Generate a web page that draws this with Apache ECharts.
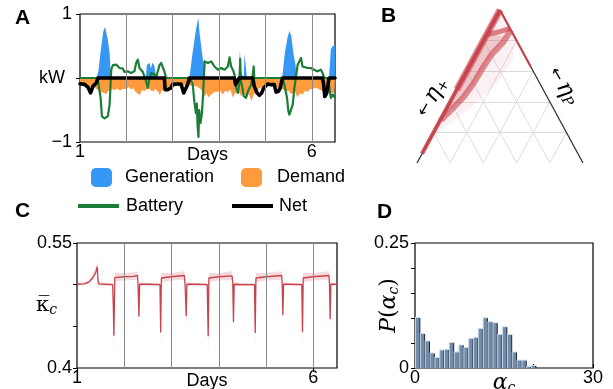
<!DOCTYPE html>
<html>
<head>
<meta charset="utf-8">
<style>
  html, body { margin: 0; padding: 0; background: #fff; }
  #chart { width: 613px; height: 389px; }
</style>
<script src="https://cdn.jsdelivr.net/npm/echarts@6/dist/echarts.min.js"></script>
</head>
<body>
<div id="chart"></div>
<script>
// ---- A: household power traces, [day, kW] ----
const generationKW = [
  [1.0, 0], [1.36, 0], [1.40, 0.12], [1.45, 0.45], [1.50, 0.72], [1.54, 0.80], [1.57, 0.78], [1.60, 0.60],
  [1.64, 0.38], [1.66, 0.10], [1.67, 0],
  [2.42, 0], [2.44, 0.20], [2.50, 0.24], [2.53, 0.15], [2.56, 0.24], [2.60, 0.20], [2.63, 0.18], [2.65, 0],
  [3.36, 0], [3.42, 0.35], [3.50, 0.75], [3.55, 0.94], [3.58, 0.70], [3.63, 0.40], [3.68, 0.15], [3.70, 0],
  [4.42, 0], [4.45, 0.44], [4.47, 0.10], [4.53, 0], [4.55, 0.38], [4.58, 0.36], [4.60, 0],
  [5.36, 0], [5.42, 0.40], [5.48, 0.65], [5.52, 0.74], [5.56, 0.65], [5.60, 0.40], [5.65, 0.20], [5.67, 0],
  [6.37, 0], [6.41, 0.45], [6.45, 0.50], [6.50, 0.50]
];
const demandKW = [
  [1.00, -0.11], [1.04, -0.13], [1.07, -0.12], [1.11, -0.15], [1.15, -0.13], [1.21, -0.15], [1.25, -0.17],
  [1.30, -0.14], [1.36, -0.17], [1.40, -0.20], [1.43, -0.21], [1.47, -0.18], [1.50, -0.23], [1.53, -0.22],
  [1.57, -0.25], [1.61, -0.20], [1.65, -0.23], [1.70, -0.17], [1.75, -0.19], [1.80, -0.16], [1.86, -0.20],
  [1.92, -0.17], [2.00, -0.17], [2.05, -0.14], [2.10, -0.18], [2.15, -0.16], [2.20, -0.22], [2.24, -0.20],
  [2.29, -0.27], [2.33, -0.19], [2.36, -0.17], [2.41, -0.20], [2.47, -0.15], [2.52, -0.19], [2.58, -0.21],
  [2.62, -0.17], [2.65, -0.18], [2.69, -0.22], [2.72, -0.27], [2.76, -0.20], [2.79, -0.22], [2.83, -0.16],
  [2.86, -0.17], [2.92, -0.14], [3.00, -0.15], [3.07, -0.12], [3.15, -0.13], [3.22, -0.11], [3.29, -0.12],
  [3.36, -0.11], [3.44, -0.13], [3.50, -0.12], [3.58, -0.16], [3.63, -0.20], [3.69, -0.29], [3.73, -0.24],
  [3.77, -0.30], [3.80, -0.31], [3.84, -0.25], [3.87, -0.26], [3.92, -0.21], [3.97, -0.22], [4.02, -0.19],
  [4.08, -0.26], [4.13, -0.20], [4.19, -0.22], [4.24, -0.18], [4.30, -0.31], [4.34, -0.24], [4.37, -0.26],
  [4.42, -0.21], [4.48, -0.29], [4.53, -0.22], [4.59, -0.31], [4.64, -0.25], [4.70, -0.36], [4.74, -0.27],
  [4.77, -0.26], [4.82, -0.20], [4.87, -0.16], [4.93, -0.14], [5.01, -0.13], [5.08, -0.12], [5.16, -0.12],
  [5.23, -0.14], [5.30, -0.16], [5.37, -0.17], [5.44, -0.21], [5.50, -0.20], [5.55, -0.25], [5.59, -0.26],
  [5.64, -0.22], [5.69, -0.30], [5.74, -0.24], [5.80, -0.26], [5.85, -0.20], [5.91, -0.22], [5.96, -0.17],
  [6.02, -0.17], [6.08, -0.15], [6.16, -0.18], [6.22, -0.20], [6.30, -0.23], [6.36, -0.19], [6.42, -0.24],
  [6.48, -0.23], [6.50, -0.22]
];
const batteryKW = [
  [1.0, 0], [1.38, 0], [1.444, -0.31], [1.473, -0.60], [1.53, -0.63], [1.60, -0.60], [1.638, -0.42],
  [1.652, -0.21], [1.674, 0.13], [1.71, 0.20], [1.78, 0.21], [1.853, 0.156], [1.925, 0.146], [1.96, 0.094],
  [2.03, 0.104], [2.10, 0.078], [2.175, 0.104], [2.21, 0.234], [2.247, 0.286], [2.283, 0.156], [2.355, 0.094],
  [2.427, -0.052], [2.462, -0.156], [2.498, 0], [2.534, 0.078], [2.60, 0.06], [2.64, 0], [2.713, 0.198],
  [2.75, 0.234], [2.785, 0.21], [2.82, 0.104], [2.857, 0], [3.36, 0], [3.43, -0.09], [3.466, -0.365],
  [3.50, -0.55], [3.52, -0.40], [3.537, -0.75], [3.555, -0.92], [3.57, -0.50], [3.60, -0.70], [3.63, -0.55],
  [3.655, -0.25], [3.688, 0.26], [3.76, 0.234], [3.83, 0.26], [3.90, 0.18], [3.975, 0.13], [4.05, 0.156],
  [4.118, 0.13], [4.19, 0.18], [4.225, 0.323], [4.26, 0.18], [4.297, 0.13], [4.333, 0.052], [4.369, -0.156],
  [4.405, -0.234], [4.44, -0.078], [4.455, 0.30], [4.47, -0.05], [4.49, -0.10], [4.53, -0.28], [4.58, -0.31],
  [4.62, -0.21], [4.69, -0.104], [4.725, 0.052], [4.747, 0.18], [4.76, 0], [5.37, 0], [5.408, -0.104],
  [5.465, -0.31], [5.494, -0.52], [5.516, -0.573], [5.552, -0.547], [5.588, -0.417], [5.624, -0.156],
  [5.695, 0.208], [5.767, 0.313], [5.80, 0.18], [5.84, 0.208], [5.91, 0.156], [5.98, 0.156], [6.05, 0.13],
  [6.12, 0.104], [6.197, 0.13], [6.23, 0.078], [6.27, 0], [6.34, 0], [6.376, -0.14], [6.41, -0.31],
  [6.45, -0.26], [6.50, -0.31]
];
const netKW = [
  [1.0, -0.09], [1.03, -0.08], [1.10, -0.10], [1.172, -0.146], [1.229, -0.234], [1.28, -0.13], [1.315, -0.115],
  [1.35, -0.078], [1.387, 0], [2.82, 0], [2.835, -0.182], [2.89, -0.182], [2.96, -0.156], [3.0, -0.10],
  [3.03, -0.078], [3.107, -0.094], [3.18, -0.094], [3.236, -0.234], [3.286, -0.156], [3.322, -0.104],
  [3.358, 0], [4.33, 0], [4.357, -0.104], [4.40, -0.08], [4.43, 0], [4.725, 0], [4.76, -0.13], [4.82, -0.234],
  [4.87, -0.27], [4.92, -0.234], [4.96, -0.156], [5.05, -0.094], [5.12, -0.104], [5.19, -0.104], [5.23, -0.22],
  [5.28, -0.208], [5.32, -0.156], [5.35, -0.05], [5.37, 0], [6.23, 0], [6.255, -0.104], [6.28, -0.29],
  [6.32, -0.24], [6.35, -0.104], [6.37, 0], [6.50, 0]
];
const dayLines = [2, 3, 4, 5, 6];

// ---- B: simplex lattice and trajectories, [u, height] in lattice units ----
const triRows = 5;
const triDivs = [1, 2, 3, 4];
const bEdgeTrack = [[0, 5], [-2.35, 0.3]];
const bEdgeTop = [[0, 5], [-1.3, 2.4]];
const bRightTrack = [[0, 5], [0.93, 3.14]];
const bCrossTrack = [[0.3, 4.4], [-0.05, 4.28], [-0.38, 4.2]];
const bInnerTrack = [[0.33, 4.35], [0.1, 3.95], [-0.25, 3.55], [-0.5, 3.14], [-0.8, 2.6], [-1.1, 2.15], [-1.5, 1.7], [-1.78, 1.4]];
const bShade = [[-0.38, 4.2], [0.2, 4.15], [-0.25, 3.55], [-0.5, 3.14], [-0.8, 2.6], [-1.1, 2.15], [-1.78, 1.4], [-1.3, 2.4], [-0.38, 4.2]];
const bFan = [[0, 5], [0.45, 4.1], [0.4, 3.4], [-0.1, 2.6], [-0.9, 1.8], [-2.0, 0.9], [-2.4, 0.2]];

// ---- C: mean clustering, band ----
const kappaDays = [1.00, 1.15, 1.25, 1.33, 1.40, 1.43, 1.445, 1.46, 1.60, 1.755, 1.77, 1.78, 1.79, 1.80, 2.00, 2.20, 2.28, 2.29, 2.31, 2.325,
  2.50, 2.755, 2.77, 2.785, 3.00, 3.27, 3.285, 3.31, 3.325, 3.50, 3.755, 3.775, 3.79, 4.00, 4.28, 4.295, 4.31, 4.325,
  4.50, 4.755, 4.77, 4.785, 5.00, 5.33, 5.34, 5.355, 5.37, 5.50, 5.755, 5.77, 5.785, 6.00, 6.33, 6.34, 6.355, 6.37, 6.50];
const kappaMean = [0.5005, 0.5010, 0.5030, 0.5080, 0.5150, 0.5215, 0.5040, 0.5010, 0.5005, 0.5000, 0.4700, 0.4386, 0.4750, 0.5085, 0.5095, 0.5100, 0.5110, 0.5020, 0.4617, 0.5005,
  0.5005, 0.5000, 0.4426, 0.5080, 0.5095, 0.5110, 0.5020, 0.4620, 0.5005, 0.5005, 0.5000, 0.4380, 0.5080, 0.5095, 0.5105, 0.5020, 0.4550, 0.5005,
  0.5000, 0.5000, 0.4420, 0.5080, 0.5095, 0.5110, 0.5020, 0.4637, 0.5005, 0.5005, 0.5000, 0.4430, 0.5080, 0.5095, 0.5110, 0.5020, 0.4584, 0.5005, 0.5005];
const kappaLo = [0.4990, 0.4995, 0.5010, 0.5050, 0.5110, 0.5170, 0.4990, 0.4990, 0.4990, 0.4985, 0.4550, 0.4180, 0.4600, 0.5040, 0.5050, 0.5055, 0.5060, 0.4990, 0.4480, 0.4985,
  0.4990, 0.4985, 0.4230, 0.5030, 0.5050, 0.5060, 0.4990, 0.4480, 0.4985, 0.4990, 0.4985, 0.4180, 0.5030, 0.5050, 0.5055, 0.4990, 0.4400, 0.4985,
  0.4985, 0.4985, 0.4220, 0.5030, 0.5050, 0.5060, 0.4990, 0.4500, 0.4985, 0.4990, 0.4985, 0.4230, 0.5030, 0.5050, 0.5060, 0.4990, 0.4440, 0.4985, 0.4990];
const kappaHi = [0.5020, 0.5030, 0.5055, 0.5120, 0.5210, 0.5280, 0.5110, 0.5040, 0.5020, 0.5020, 0.4850, 0.4600, 0.4950, 0.5140, 0.5140, 0.5150, 0.5160, 0.5060, 0.4800, 0.5030,
  0.5020, 0.5020, 0.4600, 0.5140, 0.5140, 0.5160, 0.5060, 0.4800, 0.5030, 0.5020, 0.5020, 0.4580, 0.5140, 0.5140, 0.5160, 0.5060, 0.4720, 0.5030,
  0.5020, 0.5020, 0.4600, 0.5140, 0.5140, 0.5160, 0.5060, 0.4800, 0.5030, 0.5020, 0.5020, 0.4610, 0.5140, 0.5140, 0.5160, 0.5060, 0.4760, 0.5030, 0.5020];

// ---- D: histogram of alpha_c ----
const alphaBinWidth = 0.815;
const alphaProb = [0.100, 0.068, 0.053, 0.029, 0.020, 0.035, 0.036, 0.050, 0.031, 0.045, 0.040, 0.058, 0.060,
  0.078, 0.0995, 0.0916, 0.0896, 0.066, 0.0816, 0.066, 0.031, 0.0146, 0.0146, 0.002, 0.004];

const FONT = 'Liberation Sans, Arial, Helvetica, sans-serif';
const black = '#000';
const baseLabel = { fontSize: 18, color: black, fontFamily: FONT };

const chart = echarts.init(document.getElementById('chart'));

const dayAxis = gridIndex => ({
  gridIndex, type: 'value', min: 1, max: 6.5, interval: 1,
  axisLine: { show: false },
  splitLine: { show: false },
  axisTick: { show: true, customValues: [1, 6], length: 4, lineStyle: { color: black } },
  axisLabel: { ...baseLabel, customValues: [1, 6], margin: 1, formatter: v => (v === 1 || v === 6) ? String(v) : '' },
  name: 'Days', nameLocation: 'middle', nameGap: 4, nameMoveOverlap: false,
  nameTextStyle: { ...baseLabel }
});

const dayMarkLine = {
  silent: true, symbol: 'none', label: { show: false },
  lineStyle: { color: '#8a8a8a', width: 1, type: 'solid' },
  data: dayLines.map(d => ({ xAxis: d }))
};

const frame = { show: true, borderColor: black, borderWidth: 1.2, outerBoundsMode: 'none' };

const triGrid = [];
triDivs.forEach(k => {
  triGrid.push({ coords: [[-k / 2, triRows - k], [k / 2, triRows - k]] });
  triGrid.push({ coords: [[k / 2, triRows - k], [k - triRows / 2, 0]] });
  triGrid.push({ coords: [[-k / 2, triRows - k], [triRows / 2 - k, 0]] });
});

const red = '#c9424c';
const track = (coords, width, opacity) => ({
  type: 'lines', coordinateSystem: 'cartesian2d', xAxisIndex: 1, yAxisIndex: 1,
  polyline: true, silent: true, z: 4,
  lineStyle: { color: red, width, opacity, join: 'round' },
  data: [{ coords }]
});
const shape = (pts, fill) => ({
  type: 'custom', xAxisIndex: 1, yAxisIndex: 1, silent: true, z: 3, data: [[0, 0]],
  renderItem: (params, api) => ({
    type: 'polygon', shape: { points: pts.map(p => api.coord(p)) }, style: { fill }
  })
});

// band outline: lower edge forward, upper edge back
const kappaBand = kappaDays.map((d, i) => [d, kappaLo[i]])
  .concat(kappaDays.map((d, i) => [d, kappaHi[i]]).reverse());

const option = {
  animation: false,
  textStyle: { fontFamily: FONT },
  grid: [
    { left: 80, top: 14, width: 255, height: 128, ...frame },
    { left: 417, top: 10, width: 166, height: 153, show: false, outerBoundsMode: 'none' },
    { left: 77, top: 243, width: 260, height: 125, ...frame },
    { left: 415, top: 243, width: 178, height: 125, ...frame }
  ],
  xAxis: [
    dayAxis(0),
    { gridIndex: 1, type: 'value', min: -2.5, max: 2.5, show: false },
    dayAxis(2),
    {
      gridIndex: 3, type: 'value', min: 0, max: 30, interval: 10,
      axisLine: { show: false }, splitLine: { show: false },
      axisTick: { show: true, inside: true, length: 4, lineStyle: { color: black } },
      axisLabel: { ...baseLabel, customValues: [0, 30], margin: 1, formatter: v => (v === 0 || v === 30) ? String(v) : '' },
      name: '{a|α}{c|c}', nameLocation: 'middle', nameGap: 3, nameMoveOverlap: false,
      nameTextStyle: {
        rich: {
          a: { fontSize: 22, fontFamily: 'DejaVu Serif', fontStyle: 'italic', color: black },
          c: { fontSize: 14, fontFamily: 'DejaVu Serif', fontStyle: 'italic', color: black, padding: [10, 0, 0, 0] }
        }
      }
    }
  ],
  yAxis: [
    {
      gridIndex: 0, type: 'value', min: -1, max: 1, interval: 1,
      axisLine: { show: false }, splitLine: { show: false },
      axisTick: { show: true, length: 4, lineStyle: { color: black } },
      axisLabel: { ...baseLabel, customValues: [-1, 1], margin: 8, formatter: v => v === 1 ? '1' : (v === -1 ? '\u22121' : '') },
      name: 'kW', nameLocation: 'middle', nameRotate: 0, nameGap: 15, nameMoveOverlap: false,
      nameTextStyle: { ...baseLabel }
    },
    { gridIndex: 1, type: 'value', min: 0, max: triRows, show: false },
    {
      gridIndex: 2, type: 'value', min: 0.4, max: 0.55, interval: 0.05,
      axisLine: { show: false }, splitLine: { show: false },
      axisTick: { show: true, length: 4, lineStyle: { color: black } },
      axisLabel: {
        ...baseLabel, customValues: [0.4, 0.55], margin: 5,
        formatter: v => Math.abs(v - 0.55) < 1e-6 ? '0.55' : (Math.abs(v - 0.4) < 1e-6 ? '0.4' : '')
      },
      name: '{k|\u03ba\u0305}{c|c}', nameLocation: 'middle', nameRotate: 0, nameGap: 20, nameMoveOverlap: false,
      nameTextStyle: {
        rich: {
          k: { fontSize: 21, fontFamily: 'DejaVu Serif', color: black },
          c: { fontSize: 14, fontFamily: 'DejaVu Serif', fontStyle: 'italic', color: black, padding: [10, 0, 0, 0] }
        }
      }
    },
    {
      gridIndex: 3, type: 'value', min: 0, max: 0.25, interval: 0.05,
      axisLine: { show: false }, splitLine: { show: false },
      axisTick: { show: true, length: 4, lineStyle: { color: black } },
      axisLabel: {
        ...baseLabel, customValues: [0, 0.25], margin: 6,
        formatter: v => v === 0 ? '0' : (Math.abs(v - 0.25) < 1e-6 ? '0.25' : '')
      },
      name: '{p|P}{b|(}{a|α}{c|c}{b|)}', nameLocation: 'middle', nameRotate: 90, nameGap: 14, nameMoveOverlap: false,
      nameTextStyle: {
        rich: {
          p: { fontSize: 22, fontFamily: 'DejaVu Serif', fontStyle: 'italic', color: black },
          b: { fontSize: 22, fontFamily: 'DejaVu Serif', color: black },
          a: { fontSize: 22, fontFamily: 'DejaVu Serif', fontStyle: 'italic', color: black },
          c: { fontSize: 14, fontFamily: 'DejaVu Serif', fontStyle: 'italic', color: black, padding: [10, 0, 0, 0] }
        }
      }
    }
  ],
  legend: [
    { data: ['Generation'], left: 91, top: 168, padding: 0, icon: 'roundRect', itemWidth: 21, itemHeight: 19, selectedMode: false, textStyle: { ...baseLabel, padding: [0, 0, 0, 8] } },
    { data: ['Demand'], left: 241, top: 168, padding: 0, icon: 'roundRect', itemWidth: 21, itemHeight: 19, selectedMode: false, textStyle: { ...baseLabel, padding: [0, 0, 0, 10] } },
    { data: ['Battery'], left: 78, top: 197, padding: 0, icon: 'rect', itemWidth: 41, itemHeight: 4, selectedMode: false, textStyle: { ...baseLabel, padding: [0, 0, 0, 2] } },
    { data: ['Net'], left: 232, top: 197, padding: 0, icon: 'rect', itemWidth: 41, itemHeight: 4, selectedMode: false, textStyle: { ...baseLabel, padding: [0, 0, 0, 1] } }
  ],
  graphic: [
    { type: 'text', left: 15, top: 8, style: { text: 'A', font: 'bold 21px ' + FONT, fill: black } },
    { type: 'text', left: 381, top: 6, style: { text: 'B', font: 'bold 21px ' + FONT, fill: black } },
    { type: 'text', left: 15, top: 201, style: { text: 'C', font: 'bold 21px ' + FONT, fill: black } },
    { type: 'text', left: 377, top: 202, style: { text: 'D', font: 'bold 21px ' + FONT, fill: black } },
    {
      type: 'text', x: 432, y: 97, rotation: Math.PI / 3,
      style: {
        text: '{a|\u2190} {e|\u03b7}{s|+}', align: 'center', verticalAlign: 'middle',
        rich: {
          a: { fontSize: 16, fill: black, fontFamily: 'DejaVu Sans' },
          e: { fontSize: 23, fill: black, fontFamily: 'DejaVu Serif', fontStyle: 'italic' },
          s: { fontSize: 14, fill: black, fontFamily: 'DejaVu Sans', padding: [9, 0, 0, 0] }
        }
      }
    },
    {
      type: 'text', x: 563, y: 86, rotation: -Math.PI / 3,
      style: {
        text: '{a|\u2190} {e|\u03b7}{s|P}', align: 'center', verticalAlign: 'middle',
        rich: {
          a: { fontSize: 16, fill: black, fontFamily: 'DejaVu Sans' },
          e: { fontSize: 23, fill: black, fontFamily: 'DejaVu Serif', fontStyle: 'italic' },
          s: { fontSize: 14, fill: black, fontFamily: 'DejaVu Serif', fontStyle: 'italic', padding: [9, 0, 0, 0] }
        }
      }
    }
  ],
  series: [
    // A
    {
      name: 'Demand', type: 'line', xAxisIndex: 0, yAxisIndex: 0, data: demandKW, symbol: 'none',
      itemStyle: { color: '#ff9b3d' }, lineStyle: { width: 0 }, areaStyle: { color: '#ff9b3d', opacity: 1 },
      markLine: dayMarkLine
    },
    {
      name: 'Generation', type: 'line', xAxisIndex: 0, yAxisIndex: 0, data: generationKW, symbol: 'none',
      itemStyle: { color: '#3797f5' }, lineStyle: { width: 0 }, areaStyle: { color: '#3797f5', opacity: 1 }
    },
    {
      name: 'Battery', type: 'line', xAxisIndex: 0, yAxisIndex: 0, data: batteryKW, symbol: 'none',
      itemStyle: { color: '#1c7d36' }, lineStyle: { color: '#1c7d36', width: 2.2, join: 'round' }
    },
    {
      name: 'Net', type: 'line', xAxisIndex: 0, yAxisIndex: 0, data: netKW, symbol: 'none',
      itemStyle: { color: '#000' }, lineStyle: { color: '#000', width: 3.6, join: 'round', cap: 'round' }
    },
    // B
    {
      type: 'lines', coordinateSystem: 'cartesian2d', xAxisIndex: 1, yAxisIndex: 1, silent: true, z: 1,
      lineStyle: { color: '#dcdcdc', width: 1, opacity: 1 }, data: triGrid
    },
    shape(bFan, 'rgba(225, 120, 130, 0.10)'),
    shape(bShade, 'rgba(210, 90, 100, 0.28)'),
    {
      type: 'lines', coordinateSystem: 'cartesian2d', xAxisIndex: 1, yAxisIndex: 1, silent: true, z: 2,
      lineStyle: { color: '#333', width: 1.3, opacity: 1 },
      data: [{ coords: [[0, triRows], [-triRows / 2, 0]] }, { coords: [[0, triRows], [triRows / 2, 0]] }]
    },
    track(bEdgeTrack, 4, 0.9),
    track(bEdgeTop, 7, 0.6),
    track(bRightTrack, 2.2, 0.9),
    track(bCrossTrack, 5, 0.65),
    track(bInnerTrack, 6, 0.6),
    // C
    {
      type: 'custom', xAxisIndex: 2, yAxisIndex: 2, silent: true, z: 2, data: [[1, 0.5]],
      renderItem: (params, api) => ({
        type: 'polygon', shape: { points: kappaBand.map(p => api.coord(p)) },
        style: { fill: 'rgba(222, 140, 150, 0.32)' }
      }),
      markLine: dayMarkLine
    },
    {
      type: 'line', xAxisIndex: 2, yAxisIndex: 2, symbol: 'none', silent: true, z: 3,
      lineStyle: { color: red, width: 1.3 }, data: kappaDays.map((d, i) => [d, kappaMean[i]])
    },
    // D
    {
      type: 'custom', xAxisIndex: 3, yAxisIndex: 3, silent: true,
      data: alphaProb.map((p, i) => [i * alphaBinWidth, (i + 1) * alphaBinWidth, p]),
      renderItem: (params, api) => {
        const tl = api.coord([api.value(0), api.value(2)]);
        const br = api.coord([api.value(1), 0]);
        const w = br[0] - tl[0];
        const h = br[1] - tl[1];
        return {
          type: 'group',
          children: [
            { type: 'rect', shape: { x: tl[0], y: tl[1] - 1, width: w, height: h + 1 }, style: { fill: '#c9d6e4' } },
            { type: 'rect', shape: { x: tl[0] + 1, y: tl[1], width: w - 1, height: h }, style: { fill: '#6f8cab' } },
            { type: 'line', shape: { x1: br[0], y1: tl[1], x2: br[0], y2: br[1] }, style: { stroke: '#1d2733', lineWidth: 1 } }
          ]
        };
      }
    }
  ]
};

chart.setOption(option);
</script>
</body>
</html>
